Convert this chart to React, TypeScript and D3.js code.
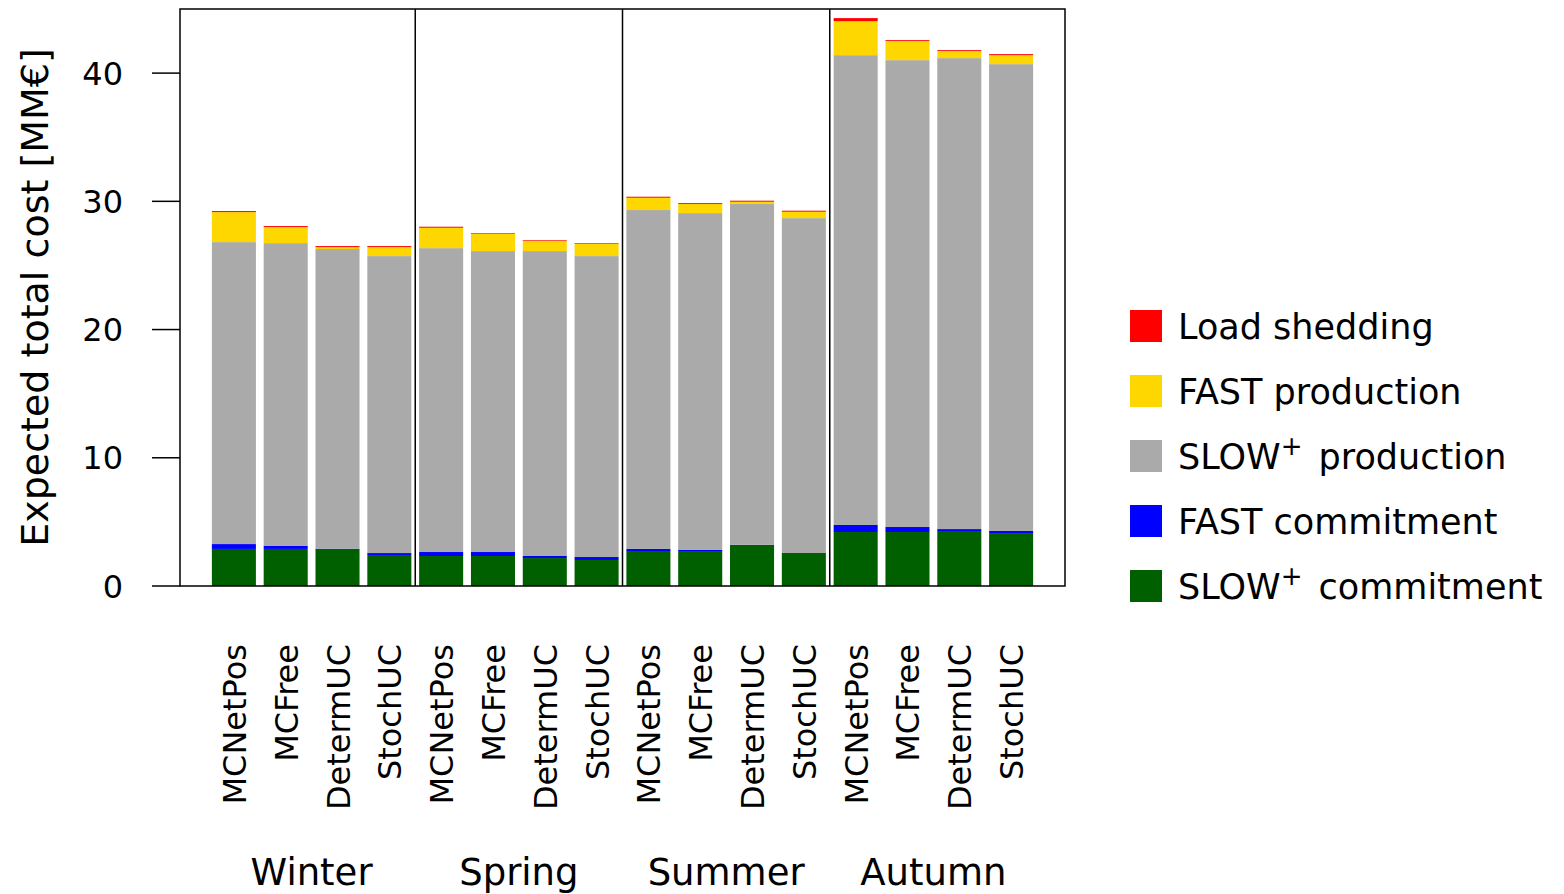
import React from "react";
import * as d3 from "d3";

const seasons = ["Winter", "Spring", "Summer", "Autumn"];
const methods = ["MCNetPos", "MCFree", "DetermUC", "StochUC"];
const seriesNames = ["SLOW⁺ commitment", "FAST commitment", "SLOW⁺ production", "FAST production", "Load shedding"];
const seriesColors = ["#006000", "#0000ff", "#aaaaaa", "#ffd700", "#ff0000"];

// per bar (season-major order)
const slowCommitment = [2.89, 2.89, 2.89, 2.42, 2.34, 2.34, 2.18, 2.03, 2.73, 2.73, 3.2, 2.5, 4.21, 4.21, 4.29, 4.13];
const fastCommitment = [0.38, 0.23, 0.02, 0.15, 0.31, 0.31, 0.16, 0.23, 0.16, 0.08, 0.01, 0.07, 0.55, 0.39, 0.15, 0.16];
const slowProduction = [23.55, 23.62, 23.37, 23.16, 23.7, 23.47, 23.78, 23.47, 26.43, 26.27, 26.58, 26.12, 36.64, 36.41, 36.73, 36.41];
const fastProduction = [2.34, 1.25, 0.15, 0.7, 1.59, 1.35, 0.81, 0.96, 0.96, 0.71, 0.18, 0.5, 2.65, 1.49, 0.55, 0.7];
const loadShedding = [0.08, 0.08, 0.08, 0.08, 0.08, 0.05, 0.05, 0.05, 0.08, 0.07, 0.08, 0.08, 0.24, 0.07, 0.07, 0.08];
const yTicks = [0, 10, 20, 30, 40];

const FONT = "DejaVu Sans";

export default function App() {
  const left = 180, right = 1065, top = 9, bottom = 586;
  const n = seasons.length * methods.length;
  const x = d3.scaleLinear().domain([-1.04, n - 1 + 1.04]).range([left, right]);
  const y = d3.scaleLinear().domain([0, 45]).range([bottom, top]);
  const bw = (x(1) - x(0)) * 0.85;

  const rows = d3.range(n).map((i) => ({
    i,
    s0: slowCommitment[i],
    s1: fastCommitment[i],
    s2: slowProduction[i],
    s3: fastProduction[i],
    s4: loadShedding[i],
  }));
  const stack = d3.stack<any>().keys(["s0", "s1", "s2", "s3", "s4"]);
  const layers = stack(rows);

  const legendOrder = [4, 3, 2, 1, 0];
  const renderName = (name: string) => {
    if (name.includes("⁺")) {
      const [a, b] = name.split("⁺");
      return (
        <>
          {a}
          <tspan dy={-14} fontSize={26}>+</tspan>
          <tspan dy={14} dx={5}>{"\u00a0" + b.trim()}</tspan>
        </>
      );
    }
    return name;
  };

  return (
    <svg width={1564} height={894} style={{ display: "block", position: "absolute", left: 0, top: 0 }} fontFamily={FONT}>
      {layers.map((layer, k) => (
        <g key={k} fill={seriesColors[k]}>
          {layer.map((d, i) => (
            <rect key={i} x={x(i) - bw / 2} width={bw} y={y(d[1])} height={Math.max(0, y(d[0]) - y(d[1]))} />
          ))}
        </g>
      ))}
      {/* season dividers */}
      {[1, 2, 3].map((s) => (
        <line key={s} x1={x(s * 4 - 0.5)} x2={x(s * 4 - 0.5)} y1={top} y2={bottom} stroke="#000" strokeWidth={1.5} />
      ))}
      <rect x={left} y={top} width={right - left} height={bottom - top} fill="none" stroke="#000" strokeWidth={1.5} />
      {/* y ticks */}
      {yTicks.map((t) => (
        <g key={t}>
          <line x1={left - 28} x2={left} y1={y(t)} y2={y(t)} stroke="#000" strokeWidth={1.5} />
          <text x={123} y={y(t)} dy="0.36em" textAnchor="end" fontSize={32}>{t}</text>
        </g>
      ))}
      <text transform={`translate(48,${(top + bottom) / 2}) rotate(-90)`} textAnchor="middle" fontSize={38}>
        Expected total cost [MM€]
      </text>
      {/* x labels */}
      {d3.range(n).map((i) => (
        <text key={i} transform={`translate(${x(i) + 12},${644}) rotate(-90)`} textAnchor="end" fontSize={32}>
          {methods[i % 4]}
        </text>
      ))}
      {seasons.map((s, k) => (
        <text key={s} x={(x(k * 4) + x(k * 4 + 3)) / 2} y={885} textAnchor="middle" fontSize={37}>{s}</text>
      ))}
      {/* legend */}
      {legendOrder.map((k, j) => {
        const cy = 326 + j * 65;
        return (
          <g key={k}>
            <rect x={1130} y={cy - 16} width={32} height={32} fill={seriesColors[k]} />
            <text x={1178} y={cy} dy="0.36em" fontSize={35}>{renderName(seriesNames[k])}</text>
          </g>
        );
      })}
    </svg>
  );
}
